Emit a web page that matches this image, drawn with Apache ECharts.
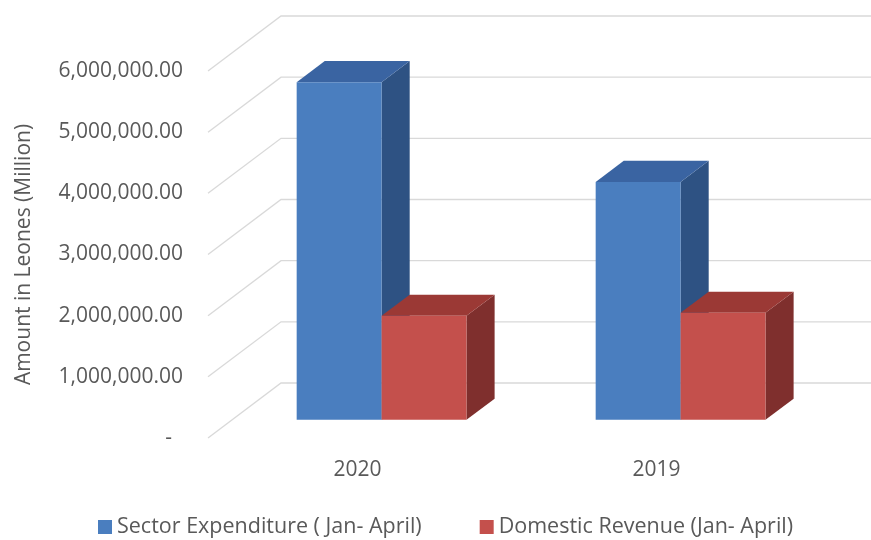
<!DOCTYPE html>
<html>
<head>
<meta charset="utf-8">
<script src="https://cdn.jsdelivr.net/npm/echarts@6/dist/echarts.min.js"></script>
<style>html,body{margin:0;padding:0;background:#fff}#c{width:871px;height:540px}</style>
</head>
<body>
<div id="c"></div>
<script>
// ---- data ----
const categories = ['2020', '2019'];
const seriesNames = ['Sector Expenditure ( Jan- April)', 'Domestic Revenue (Jan- April)'];
const sectorExpenditure = [5520000, 3890000];
const domesticRevenue = [1700000, 1750000];
const yTicks = [0, 1000000, 2000000, 3000000, 4000000, 5000000, 6000000];

// ---- style constants ----
const DX = 73, DY = -55;           // full depth of the 3D box (pixels)
const F0 = 0.33, F1 = 0.715;       // bar front/back depth fractions
const BAR_W = 0.284;               // bar width as fraction of category band
const FONT = 'Open Sans';
const TXT = '#595959';
const colors = [
  { front: '#4a7ebf', top: '#3a64a2', side: '#2e5283' },
  { front: '#c4504c', top: '#9b3935', side: '#7f2f2d' }
];

function barRenderer(si) {
  return function (params, api) {
    const i = api.value(0), v = api.value(1);
    const c = api.coord([i, v]);
    const b = api.coord([i, 0]);
    const band = api.size([1, 0])[0];
    const w = band * BAR_W;
    const xL = c[0] + (si === 0 ? -w : 0) + F0 * DX;
    const xR = xL + w;
    const yT = c[1] + F0 * DY;
    const yB = b[1] + F0 * DY;
    const dx = (F1 - F0) * DX, dy = (F1 - F0) * DY;
    const col = colors[si];
    return {
      type: 'group',
      children: [
        { type: 'polygon', shape: { points: [[xR, yT], [xR + dx, yT + dy], [xR + dx, yB + dy], [xR, yB]] }, style: { fill: col.side } },
        { type: 'polygon', shape: { points: [[xL, yT], [xR, yT], [xR + dx, yT + dy], [xL + dx, yT + dy]] }, style: { fill: col.top } },
        { type: 'rect', shape: { x: xL, y: yT, width: w, height: yB - yT }, style: { fill: col.front } }
      ]
    };
  };
}

function gridRenderer(params, api) {
  const v = api.value(1);
  const p = api.coord([0, v]);
  const cs = params.coordSys;
  const x0 = cs.x, y = p[1];
  return {
    type: 'polyline',
    shape: { points: [[x0, y], [x0 + DX, y + DY], [871, y + DY]] },
    style: { stroke: '#d9d9d9', lineWidth: 1.3, fill: null }
  };
}

const chart = echarts.init(document.getElementById('c'), null, { renderer: 'canvas' });
chart.setOption({
  animation: false,
  backgroundColor: '#fff',
  textStyle: { fontFamily: FONT },
  grid: { left: 208, right: 65, top: 71, bottom: 102 },
  legend: {
    bottom: -3,
    left: 93,
    itemWidth: 14, itemHeight: 14, itemGap: 58,
    icon: 'rect',
    textStyle: { fontFamily: FONT, fontSize: 21.5, color: TXT },
    data: seriesNames.map((n, k) => ({ name: n, itemStyle: { color: colors[k].front } }))
  },
  xAxis: {
    type: 'category',
    data: categories,
    axisLine: { show: false }, axisTick: { show: false }, splitLine: { show: false },
    axisLabel: { fontFamily: FONT, fontSize: 21, color: TXT, margin: 22 }
  },
  yAxis: {
    type: 'value',
    min: 0, max: 6000000, interval: 1000000,
    axisLine: { show: false }, axisTick: { show: false }, splitLine: { show: false },
    axisLabel: {
      fontFamily: FONT, fontSize: 21, color: TXT, margin: 25,
      formatter: function (v) {
        if (v === 0) return '-  ';
        return v.toLocaleString('en-US', { minimumFractionDigits: 2, maximumFractionDigits: 2 });
      }
    },
    name: 'Amount in Leones (Million)',
    nameLocation: 'middle',
    nameGap: 173,
    nameTextStyle: { fontFamily: FONT, fontSize: 21, color: TXT }
  },
  series: [
    {
      type: 'custom', name: '_grid', silent: true, z: 1,
      renderItem: gridRenderer,
      data: yTicks.map(t => [0, t])
    },
    {
      type: 'custom', name: seriesNames[0], z: 2,
      itemStyle: { color: colors[0].front },
      renderItem: barRenderer(0),
      data: sectorExpenditure.map((v, i) => [i, v])
    },
    {
      type: 'custom', name: seriesNames[1], z: 3,
      itemStyle: { color: colors[1].front },
      renderItem: barRenderer(1),
      data: domesticRevenue.map((v, i) => [i, v])
    }
  ]
});
</script>
</body>
</html>
